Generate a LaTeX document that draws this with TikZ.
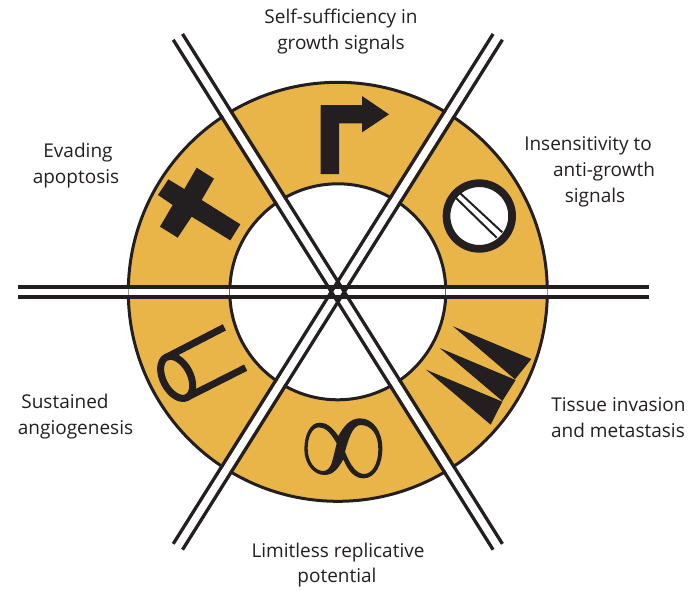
\documentclass[tikz,border=0pt]{standalone}
\usepackage{fontspec}
\setmainfont{Open Sans}
\definecolor{ink}{HTML}{231F20}
\definecolor{gold}{HTML}{E9B549}
\tikzset{
  label text/.style={inner sep=0pt,anchor=base,text=ink,font=\fontsize{19}{22}\selectfont},
  rail/.style={draw=ink,line width=3.3pt},
  railgap/.style={draw=white,line width=7.5pt},
  solid shape/.style={fill=ink,draw=none}
}
\begin{document}
\begin{tikzpicture}[x=1pt,y=-1pt]
\useasboundingbox (0,0) rectangle (688,590);
\coordinate (c) at (337.8,291.8);
% ring
\fill[gold,even odd rule] (c) circle [radius=209.5] (c) circle [radius=108];
\draw[ink,line width=3pt] (c) circle [radius=209.5];
\draw[ink,line width=3pt] (c) circle [radius=108];
% gaps between rails
\draw[draw=white,line width=8pt] (15,292) -- (652,292);
\foreach \a in {57.9,-57.9}{
  \draw[railgap,shift={(c)},rotate=\a] (-300,0) -- (300,0);
}
% ticks where circles cross the horizontal gap
\draw[ink!70,line width=1.2pt] (229.8,286) -- (229.8,297) (445.8,286) -- (445.8,297);
\draw[ink!45,line width=1pt] (547.3,286) -- (547.3,297) (128.3,286) -- (128.3,297);
% horizontal rails
\draw[ink,line width=4.2pt] (18,287) -- (649,287) (18,297) -- (649,297);
% diagonal rails
\foreach \a in {57.9,-57.9}{
  \draw[rail,shift={(c)},rotate=\a] (-301,-5.5) -- (301,-5.5) (-301,5.5) -- (301,5.5);
}
% arrow
\begin{scope}[shift={(310,90)},scale=1/3]
\fill[solid shape] (32,252) -- (32,45) -- (156,45) -- (156,18) -- (237,73) -- (156,127) -- (156,100) -- (87,100) -- (87,252) -- cycle;
\end{scope}
% cross
\begin{scope}[shift={(130,80)},scale=1/3]
\fill[solid shape] (200,263) -- (252,296) -- (215,360) -- (331,433) -- (301,481) -- (185,410) -- (143,473) -- (90,440) -- (128,375) -- (84,345) -- (115,298) -- (163,327) -- cycle;
\end{scope}
% blocked circle
\begin{scope}[shift={(440,175)},scale=1/3]
\fill[white] (118,123) circle [radius=100];
\draw[ink,line width=2pt] (62,56) -- (187,172) (49,70) -- (170,188);
\end{scope}
\draw[ink,line width=7.7pt] (479.3,216) circle [radius=32.8];
% spikes
\begin{scope}[shift={(340,290)},scale=1/3]
\fill[solid shape] (339,109) -- (574,207) -- (525,268) -- cycle;
\fill[solid shape] (299,174) -- (527,270) -- (487,333) -- cycle;
\fill[solid shape] (258,239) -- (487,335) -- (452,404) -- cycle;
\end{scope}
% infinity
\begin{scope}[shift={(295,410)},scale=1/3]
\fill[solid shape,even odd rule]
 (130,78) .. controls (112,52) and (95,38) .. (75,38) .. controls (45,38) and (28,75) .. (28,118) .. controls (28,160) and (55,195) .. (88,195) .. controls (115,195) and (130,175) .. (145,148) .. controls (160,185) and (180,205) .. (205,205) .. controls (240,205) and (262,165) .. (262,115) .. controls (262,65) and (235,25) .. (195,25) .. controls (165,25) and (145,50) .. cycle
 (125,100) .. controls (108,70) and (92,52) .. (72,52) .. controls (52,52) and (38,80) .. (38,115) .. controls (38,155) and (60,183) .. (85,183) .. controls (95,183) and (103,175) .. (108,165) .. controls (115,145) and (120,120) .. cycle
 (150,125) .. controls (160,90) and (172,45) .. (197,45) .. controls (230,45) and (250,75) .. (250,118) .. controls (250,160) and (232,192) .. (207,192) .. controls (185,192) and (165,165) .. cycle;
\end{scope}
% cylinder
\begin{scope}[shift={(150,320)},scale=1/3]
\draw[ink,line width=7pt] (80,172) ellipse [x radius=68,y radius=41,rotate=-62.4];
\draw[ink,line width=7pt] (49,112) -- (223,22) (111,232) -- (287,143);
\end{scope}
% labels
\node[label text] (l1a) at (341,23) {Self-sufficiency in};
\node[label text] (l1b) at (341,49) {growth signals};
\node[label text] (l2a) at (588,150) {Insensitivity to};
\node[label text] (l2b) at (604,176) {anti-growth};
\node[label text] (l2c) at (595,202) {signals};
\node[label text] (l3a) at (618.5,411) {Tissue invasion};
\node[label text] (l3b) at (618,437) {and metastasis};
\node[label text] (l4a) at (338,557) {Limitless replicative};
\node[label text] (l4b) at (337,582) {potential};
\node[label text] (l5a) at (65,408) {Sustained};
\node[label text] (l5b) at (75.5,434) {angiogenesis};
\node[label text] (l6a) at (78,157) {Evading};
\node[label text] (l6b) at (76,183) {apoptosis};
\end{tikzpicture}
\end{document}
